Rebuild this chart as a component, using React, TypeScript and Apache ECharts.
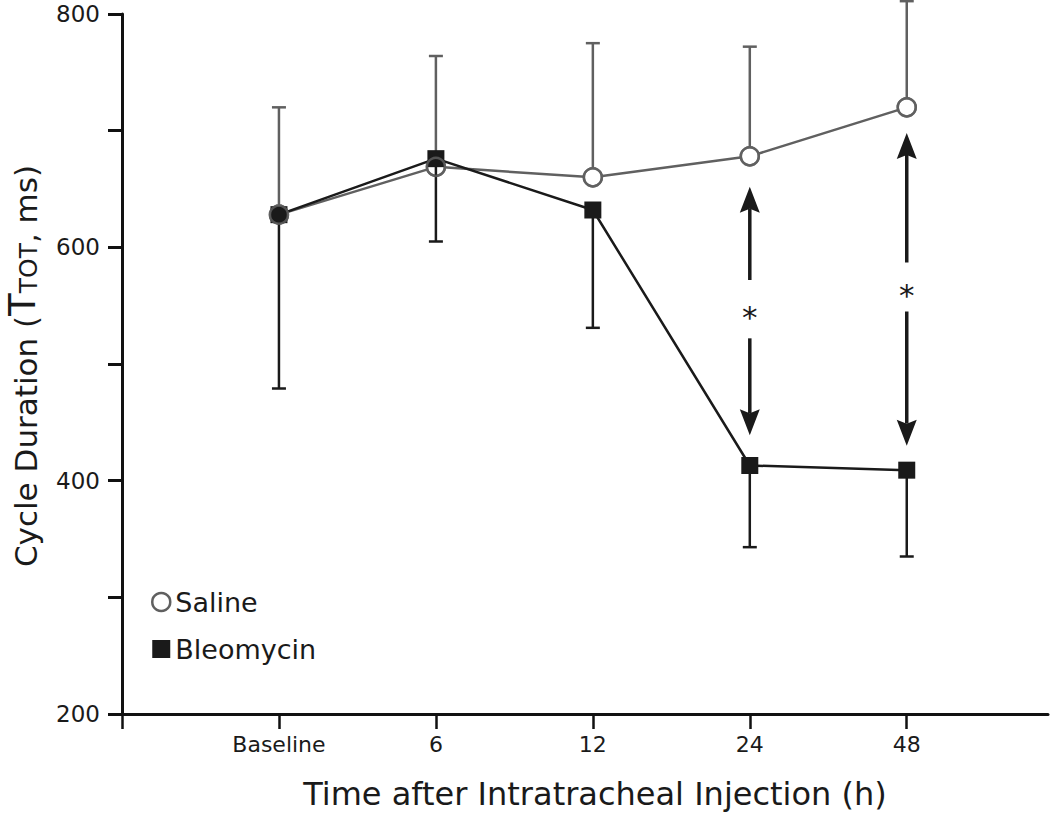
import React, { useEffect, useRef } from "react";
import * as echarts from "echarts";

// ---------- data ----------
const categories = ["Baseline", "6", "12", "24", "48"];
const xPositions = [1, 2, 3, 4, 5];
const salineMean = [628, 669, 660, 678, 720];
const salineUpper = [720, 764, 775, 772, 811];
const bleoMean = [628, 676, 632, 413, 409];
const bleoLower = [479, 605, 531, 343, 335];
const yTickLabels = [200, 400, 600, 800];
// significance arrows: x position, tail value, tip value
const arrowX = [4, 4, 5, 5];
const arrowTail = [572, 522, 587, 545];
const arrowTip = [652, 439, 698, 430];
const starX = [4, 5];
const starY = [546, 565];

const GRAY = "#606060";
const BLACK = "#1a1a1a";
const AXIS = "#111111";
const SANS = "'DejaVu Sans', Verdana, sans-serif";

function errorBarRender(color: string) {
  return (params: any, api: any) => {
    const x = api.value(0);
    const p0 = api.coord([x, api.value(1)]);
    const p1 = api.coord([x, api.value(2)]);
    const style = { stroke: color, lineWidth: 2.5 };
    return {
      type: "group",
      children: [
        { type: "line", shape: { x1: p0[0], y1: p0[1], x2: p1[0], y2: p1[1] }, style },
        { type: "line", shape: { x1: p1[0] - 7, y1: p1[1], x2: p1[0] + 7, y2: p1[1] }, style },
      ],
    };
  };
}

function arrowRender(params: any, api: any) {
  const x = api.value(0);
  const p0 = api.coord([x, api.value(1)]);
  const p1 = api.coord([x, api.value(2)]);
  const dir = p1[1] > p0[1] ? 1 : -1;
  const headLen = 24;
  const half = 10;
  const baseY = p1[1] - dir * headLen;
  return {
    type: "group",
    children: [
      {
        type: "line",
        shape: { x1: p0[0], y1: p0[1], x2: p1[0], y2: baseY + dir * 2 },
        style: { stroke: BLACK, lineWidth: 3.5 },
      },
      {
        type: "polygon",
        shape: {
          points: [
            [p1[0], p1[1]],
            [p1[0] - half, baseY - dir * 2],
            [p1[0], baseY + dir * 2],
            [p1[0] + half, baseY - dir * 2],
          ],
        },
        style: { fill: BLACK },
      },
    ],
  };
}

function starRender(params: any, api: any) {
  const p = api.coord([api.value(0), api.value(1)]);
  return {
    type: "text",
    x: p[0],
    y: p[1] + 7,
    style: {
      text: "*",
      fontSize: 31,
      fontFamily: SANS,
      fill: BLACK,
      align: "center",
      verticalAlign: "middle",
    },
  };
}

export default function App() {
  const ref = useRef<HTMLDivElement>(null);

  useEffect(() => {
    document.body.style.margin = "0";
    if (!ref.current) return;
    const chart = echarts.init(ref.current, null, { renderer: "svg" });

    const option: any = {
      animation: false,
      backgroundColor: "#ffffff",
      grid: { left: 122, top: 14, right: 2, bottom: 101 },
      legend: {
        orient: "vertical",
        left: 146,
        top: 582,
        itemWidth: 18,
        itemHeight: 18,
        itemGap: 17,
        textStyle: { fontSize: 27, fontFamily: SANS, color: BLACK, lineHeight: 30 },
        data: [
          {
            name: "Saline",
            icon: "circle",
            itemStyle: { color: "#ffffff", borderColor: GRAY, borderWidth: 2.5 },
          },
          { name: "Bleomycin", icon: "rect", itemStyle: { color: BLACK } },
        ],
      },
      xAxis: {
        type: "value",
        min: 0,
        max: 5.9,
        interval: 1,
        splitLine: { show: false },
        axisLine: { show: true, lineStyle: { color: AXIS, width: 3 } },
        axisTick: {
          show: true,
          customValues: [0, 1, 2, 3, 4, 5],
          length: 15,
          lineStyle: { color: AXIS, width: 2.5 },
        },
        axisLabel: {
          customValues: xPositions,
          formatter: (v: number) => categories[Math.round(v) - 1] ?? "",
          fontSize: 22,
          fontFamily: SANS,
          color: BLACK,
          margin: 19,
        },
        name: "Time after Intratracheal Injection (h)",
        nameLocation: "middle",
        nameGap: 64,
        nameTextStyle: {
          fontSize: 32,
          fontFamily: SANS,
          color: BLACK,
          padding: [0, 0, 0, 20],
        },
      },
      yAxis: {
        type: "value",
        min: 200,
        max: 800,
        interval: 100,
        splitLine: { show: false },
        axisLine: { show: true, lineStyle: { color: AXIS, width: 3 } },
        axisTick: { show: true, length: 14, lineStyle: { color: AXIS, width: 3 } },
        axisLabel: {
          formatter: (v: number) => (yTickLabels.includes(v) ? String(v) : ""),
          fontSize: 23,
          fontFamily: SANS,
          color: BLACK,
          margin: 22,
        },
      },
      graphic: [
        {
          type: "text",
          x: 21,
          y: 366,
          rotation: Math.PI / 2,
          style: {
            text: "{m|Cycle Duration (}{b|T}{s|TOT}{m|, ms)}",
            align: "center",
            verticalAlign: "middle",
            fill: BLACK,
            rich: {
              m: { fontSize: 31, fontFamily: SANS, fill: BLACK, verticalAlign: "bottom", lineHeight: 36 },
              b: { fontSize: 37, fontFamily: SANS, fill: BLACK, verticalAlign: "bottom", lineHeight: 40 },
              s: { fontSize: 25, fontFamily: SANS, fill: BLACK, verticalAlign: "bottom", lineHeight: 30 },
            },
          },
        },
      ],
      series: [
        {
          name: "salineErr",
          type: "custom",
          z: 1,
          renderItem: errorBarRender(GRAY),
          data: xPositions.map((x, i) => [x, salineMean[i], salineUpper[i]]),
          silent: true,
        },
        {
          name: "Saline",
          type: "line",
          z: 2,
          data: xPositions.map((x, i) => [x, salineMean[i]]),
          symbol: "circle",
          symbolSize: 18,
          lineStyle: { color: GRAY, width: 2.5 },
          itemStyle: { color: "#ffffff", borderColor: GRAY, borderWidth: 2.5 },
        },
        {
          name: "bleoErr",
          type: "custom",
          z: 3,
          renderItem: errorBarRender(BLACK),
          data: xPositions.map((x, i) => [x, bleoMean[i], bleoLower[i]]),
          silent: true,
        },
        {
          name: "Bleomycin",
          type: "line",
          z: 4,
          data: xPositions.map((x, i) => [x, bleoMean[i]]),
          symbol: "rect",
          symbolSize: 17,
          lineStyle: { color: BLACK, width: 2.5 },
          itemStyle: { color: BLACK },
        },
        {
          name: "salineRing",
          type: "scatter",
          z: 5,
          data: xPositions.map((x, i) => [x, salineMean[i]]),
          symbol: "circle",
          symbolSize: 18,
          itemStyle: { color: "rgba(0,0,0,0)", borderColor: GRAY, borderWidth: 2.5 },
          silent: true,
        },
        {
          name: "arrows",
          type: "custom",
          z: 6,
          renderItem: arrowRender,
          data: arrowX.map((x, i) => [x, arrowTail[i], arrowTip[i]]),
          silent: true,
        },
        {
          name: "stars",
          type: "custom",
          z: 6,
          renderItem: starRender,
          data: starX.map((x, i) => [x, starY[i]]),
          silent: true,
        },
      ],
    };

    chart.setOption(option);
    return () => chart.dispose();
  }, []);

  return <div ref={ref} style={{ width: 1050, height: 815 }} />;
}
